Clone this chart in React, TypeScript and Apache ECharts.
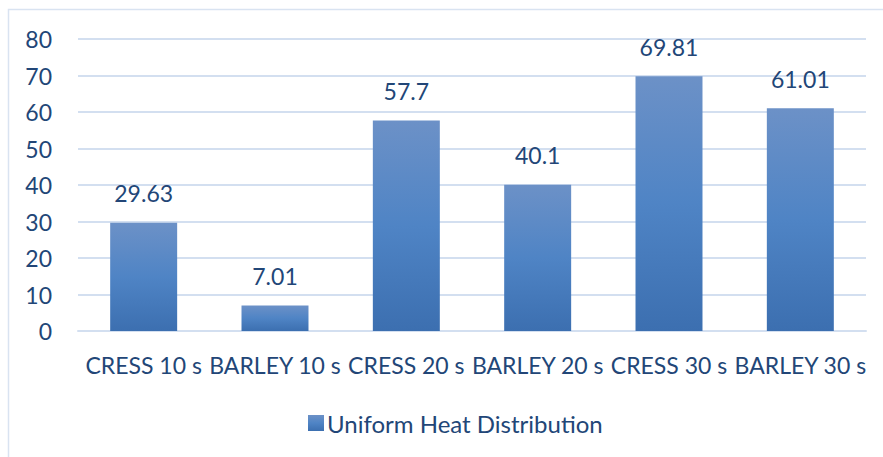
import React, { useEffect, useRef } from "react";
import * as echarts from "echarts";

const categories = ["CRESS 10 s", "BARLEY 10 s", "CRESS 20 s", "BARLEY 20 s", "CRESS 30 s", "BARLEY 30 s"];
const values = [29.63, 7.01, 57.7, 40.1, 69.81, 61.01];
const seriesName = "Uniform Heat Distribution";
const yTicks = { min: 0, max: 80, interval: 10 };

const textColor = "#224677";
const font = "Lato";

export default function App() {
  const ref = useRef<HTMLDivElement>(null);
  useEffect(() => {
    document.body.style.margin = "0";
    const chart = echarts.init(ref.current!, null, { renderer: "svg" });
    const grad = new echarts.graphic.LinearGradient(0, 0, 0, 1, [
      { offset: 0, color: "#6c91c7" },
      { offset: 0.5, color: "#4f84c5" },
      { offset: 1, color: "#3c6fb0" },
    ]);
    chart.setOption({
      animation: false,
      backgroundColor: "#ffffff",
      graphic: [
        {
          type: "rect",
          shape: { x: 8.5, y: 9.5, width: 900, height: 470 },
          style: { fill: "none", stroke: "#d9e3f1", lineWidth: 1.5 },
          silent: true,
        },
      ],
      grid: { left: 78, right: 17, top: 39, bottom: 126 },
      legend: {
        left: 303,
        top: 406,
        itemWidth: 16,
        itemHeight: 16,
        icon: "rect",
        textStyle: { color: textColor, fontSize: 24, fontFamily: font, padding: [0, 0, 0, -2] },
        data: [seriesName],
      },
      xAxis: {
        type: "category",
        data: categories,
        axisLine: { lineStyle: { color: "#d3dff0", width: 2 } },
        axisTick: { show: false },
        axisLabel: { color: textColor, fontSize: 23, fontFamily: font, margin: 22, interval: 0 },
      },
      yAxis: {
        type: "value",
        min: yTicks.min,
        max: yTicks.max,
        interval: yTicks.interval,
        axisLine: { show: false },
        axisTick: { show: false },
        splitLine: { lineStyle: { color: "#d3dff0", width: 2 } },
        axisLabel: { color: textColor, fontSize: 23, fontFamily: font, margin: 26 },
      },
      series: [
        {
          name: seriesName,
          type: "bar",
          data: values,
          barWidth: "51%",
          itemStyle: { color: grad },
          label: {
            show: true,
            position: "top",
            distance: 18,
            color: textColor,
            fontSize: 23,
            fontFamily: font,
          },
        },
      ],
    });
    return () => chart.dispose();
  }, []);
  return <div ref={ref} style={{ width: 883, height: 457 }} />;
}
